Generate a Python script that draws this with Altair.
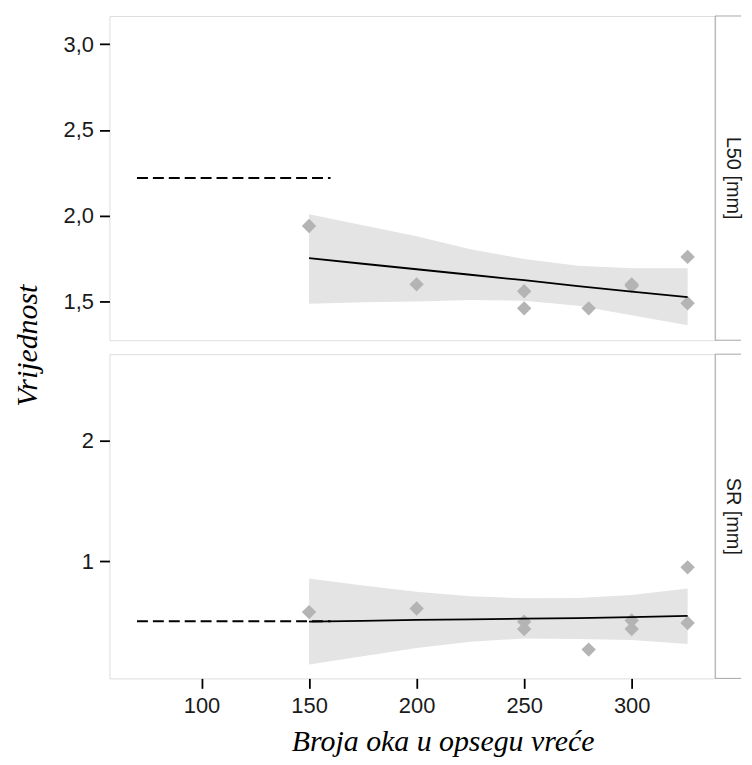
import altair as alt
import pandas as pd

# ---- data ----
mesh = [150, 200, 250, 250, 280, 300, 300, 326, 326]
l50_vals = [1.94, 1.60, 1.56, 1.46, 1.46, 1.60, 1.59, 1.76, 1.49]
sr_vals = [0.58, 0.61, 0.50, 0.44, 0.27, 0.51, 0.44, 0.95, 0.49]

fit_x = [150, 175, 200, 225, 250, 275, 300, 326]
l50_fit = [1.753, 1.720, 1.688, 1.656, 1.624, 1.590, 1.558, 1.525]
l50_lo = [1.487, 1.495, 1.500, 1.508, 1.505, 1.475, 1.420, 1.361]
l50_hi = [2.009, 1.945, 1.880, 1.805, 1.748, 1.708, 1.694, 1.694]
sr_fit = [0.502, 0.508, 0.515, 0.520, 0.526, 0.531, 0.538, 0.548]
sr_lo = [0.146, 0.215, 0.283, 0.335, 0.362, 0.358, 0.350, 0.316]
sr_hi = [0.858, 0.800, 0.749, 0.712, 0.694, 0.697, 0.722, 0.776]

ref_x = [70, 160]
l50_ref = [2.22, 2.22]
sr_ref = [0.505, 0.505]

x_ticks = [100, 150, 200, 250, 300]
l50_ticks = [1.5, 2.0, 2.5, 3.0]
sr_ticks = [1, 2]

panel_names = ["L50 [mm]", "SR [mm]"]

X_DOMAIN = [57.2, 338.8]
W, H = 609, 326
STRIP_W = 26

POINT_COLOR = "#b4b4b4"
BAND_COLOR = "#e4e4e4"
BORDER = "#a6a6a6"


def make_panel(vals, fit, lo, hi, ref, ydomain, yticks, label_expr, strip, bottom):
    pts = pd.DataFrame({"x": mesh, "y": vals})
    band = pd.DataFrame({"x": fit_x, "fit": fit, "lo": lo, "hi": hi})
    refdf = pd.DataFrame({"x": ref_x, "y": ref})
    one = pd.DataFrame({"a": [0]})

    if bottom:
        xaxis = alt.Axis(
            values=x_ticks, title="Broja oka u opsegu vreće", grid=False, domain=False,
            tickColor="black", tickWidth=1.8, tickSize=10, labelPadding=7,
            labelFont="Liberation Sans", labelFontSize=22, labelColor="#1a1a1a",
            titleFont="Liberation Serif", titleFontStyle="italic", titleFontWeight="normal",
            titleFontSize=30, titleColor="black", titleX=335, titleY=72,
            titleBaseline="alphabetic", titleAlign="center",
        )
    else:
        xaxis = None

    yaxis_kwargs = dict(
        values=yticks, grid=False, domain=False, labelExpr=label_expr,
        tickColor="black", tickWidth=1.8, tickSize=10, labelPadding=6,
        labelFont="Liberation Sans", labelFontSize=22, labelColor="#1a1a1a",
    )
    if not bottom:
        yaxis = alt.Axis(
            title="Vrijednost", titleFont="Liberation Serif", titleFontStyle="italic",
            titleFontWeight="normal", titleFontSize=30, titleColor="black",
            titleX=-73, titleY=331, titleAngle=-90, titleBaseline="alphabetic",
            titleAlign="center", **yaxis_kwargs,
        )
    else:
        yaxis = alt.Axis(title=None, **yaxis_kwargs)

    xs = alt.Scale(domain=X_DOMAIN, nice=False, zero=False)
    ys = alt.Scale(domain=ydomain, nice=False, zero=False)

    band_layer = alt.Chart(band).mark_area(color=BAND_COLOR, opacity=1).encode(
        x=alt.X("x:Q", scale=xs, axis=xaxis),
        y=alt.Y("lo:Q", scale=ys, axis=yaxis),
        y2="hi:Q",
    )
    pts_layer = alt.Chart(pts).mark_point(
        shape="diamond", filled=True, size=210, color=POINT_COLOR, opacity=1
    ).encode(x="x:Q", y="y:Q")
    line_layer = alt.Chart(band).mark_line(color="black", strokeWidth=1.8).encode(
        x="x:Q", y="fit:Q"
    )
    ref_layer = alt.Chart(refdf).mark_line(
        color="black", strokeWidth=2, strokeDash=[11, 5]
    ).encode(x="x:Q", y="y:Q")

    # strip box: top and bottom edges only (right edge hidden by the dash pattern)
    strip_box = alt.Chart(one).mark_rect(
        fill="white", fillOpacity=0, stroke=BORDER, strokeWidth=1,
        strokeDash=[STRIP_W, H, STRIP_W + H],
    ).encode(
        x=alt.value(W), x2=alt.value(W + STRIP_W), y=alt.value(0), y2=alt.value(H)
    )
    strip_text = alt.Chart(one).mark_text(
        angle=90, align="center", baseline="middle", font="Liberation Sans",
        fontSize=20, color="#1a1a1a", text=strip,
    ).encode(x=alt.value(W + 18), y=alt.value(H / 2))

    return alt.layer(
        band_layer, pts_layer, line_layer, ref_layer, strip_box, strip_text
    ).properties(width=W, height=H)


top = make_panel(
    l50_vals, l50_fit, l50_lo, l50_hi, l50_ref, [1.274, 3.165], l50_ticks,
    "replace(format(datum.value, '.1f'), '.', ',')", panel_names[0], False,
)
bottom = make_panel(
    sr_vals, sr_fit, sr_lo, sr_hi, sr_ref, [0.032, 2.712], sr_ticks,
    "format(datum.value, 'd')", panel_names[1], True,
)

chart = alt.vconcat(top, bottom, spacing=14, bounds="flush").properties(
    padding={"left": 4, "top": 5, "right": 0, "bottom": 0}
).configure_view(stroke=BORDER, strokeWidth=1).configure(background="white")

chart.save("out.html", embed_options={"renderer": "svg", "actions": False})
